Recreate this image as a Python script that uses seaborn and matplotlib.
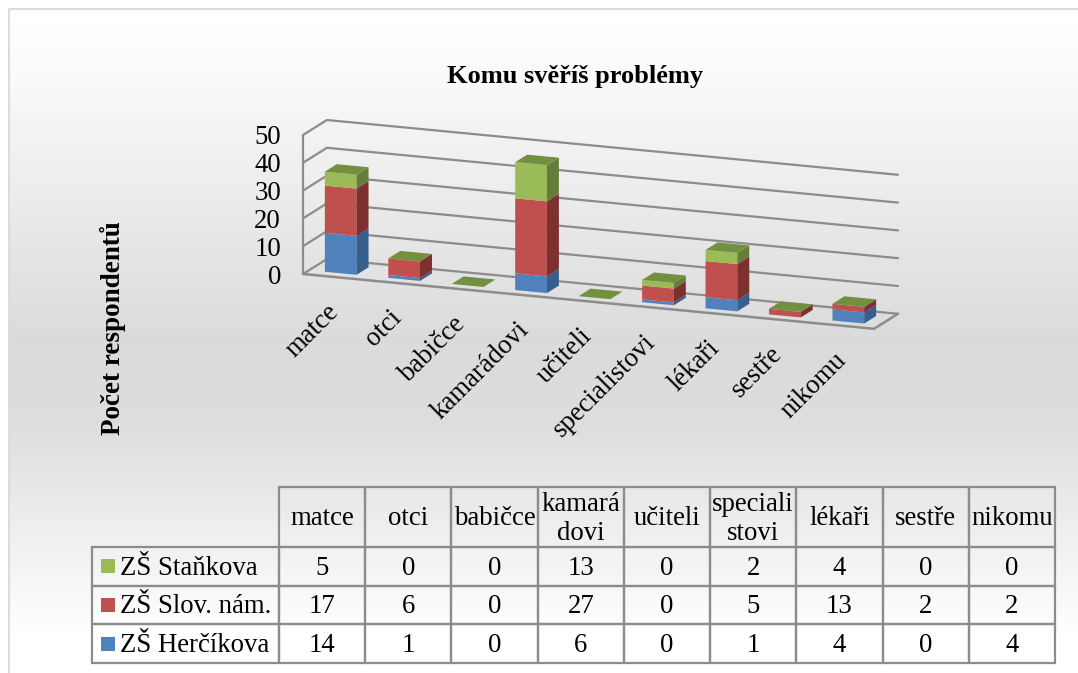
import matplotlib
matplotlib.use("Agg")
import matplotlib.pyplot as plt
import numpy as np
import seaborn as sns
from matplotlib.patches import Polygon, Rectangle
from matplotlib.transforms import Affine2D

kategorie = ["matce", "otci", "babičce", "kamarádovi", "učiteli",
             "specialistovi", "lékaři", "sestře", "nikomu"]
hlavicka = ["matce", "otci", "babičce", "kamará\ndovi", "učiteli",
            "speciali\nstovi", "lékaři", "sestře", "nikomu"]
hercikova = [14, 1, 0, 6, 0, 1, 4, 0, 4]
slov_nam = [17, 6, 0, 27, 0, 5, 13, 2, 2]
stankova = [5, 0, 0, 13, 0, 2, 4, 0, 0]
osa_y = [0, 10, 20, 30, 40, 50]

sns.set_theme(style="white")
plt.rcParams["font.family"] = ["Liberation Serif", "DejaVu Serif"]
plt.rcParams["text.color"] = "black"
W, H = 1078, 673
FS = 19.3
GRID = "#8c8c8c"

fig = plt.figure(figsize=(W / 100, H / 100), dpi=100, facecolor="white")


def px_axes(x0, y0, x1, y1):
    return fig.add_axes([x0 / W, 1 - y1 / H, (x1 - x0) / W, (y1 - y0) / H])


# background gradient of the chart area
bg = px_axes(0, 0, W, H)
bg.set_xlim(0, W)
bg.set_ylim(H, 0)
bg.axis("off")
radky = np.arange(10, H)
odstin = np.interp(radky, [10, 60, 340, 420, 640], [1.0, 0.985, 0.855, 0.865, 1.0])
bg.imshow(odstin[:, None], cmap="gray", vmin=0, vmax=1, aspect="auto",
          extent=[10, W, H, 10], zorder=0)
bg.plot([9, 9, W], [H, 9, 9], color="#dcdcdc", lw=1.5, zorder=1)
bg.set_xlim(0, W)
bg.set_ylim(H, 0)

# sheared pseudo 3D scale: 63.6 px per category, 2.78 px per respondent
SLOPE = 2.19
DEPTH_X = 0.377
DEPTH_Y = 5.4


def project(x, v, d):
    return x + DEPTH_X * d, v - SLOPE * (x + 0.5) + DEPTH_Y * d


def face_transform(d):
    return Affine2D(np.array([[1, 0, DEPTH_X * d],
                              [-SLOPE, 1, -SLOPE * 0.5 + DEPTH_Y * d],
                              [0, 0, 1]]))


ax = px_axes(303, 120, 898, 329)
ax.patch.set_visible(False)

serie = [(hercikova, "#4f81bd", "#365f8d"),
         (slov_nam, "#c0504d", "#7d302e"),
         (stankova, "#9bbb59", "#667c38")]
TOP = "#738f40"

zaklad = np.zeros(len(kategorie))
for hodnoty, barva, bok in serie:
    pred = len(ax.patches)
    sns.barplot(x=kategorie, y=hodnoty, bottom=zaklad, color=barva, saturation=1,
                width=0.5, linewidth=0, ax=ax, zorder=3)
    predni = list(ax.patches)[pred:]
    for r in predni:
        x0, x1 = r.get_x(), r.get_x() + r.get_width()
        y0, y1 = r.get_y(), r.get_y() + r.get_height()
        r.set_transform(face_transform(0.25) + ax.transData)
        if y1 > y0:
            ax.add_patch(Polygon([project(x1, y0, 0.25), project(x1, y1, 0.25),
                                  project(x1, y1, 0.75), project(x1, y0, 0.75)],
                                 closed=True, fc=bok, ec="none", zorder=3))
    zaklad = zaklad + np.array(hodnoty)

# top faces are always the last series, also for zero height stacks
for i, vyska in enumerate(zaklad):
    x0, x1 = i - 0.25, i + 0.25
    ax.add_patch(Polygon([project(x0, vyska, 0.25), project(x1, vyska, 0.25),
                          project(x1, vyska, 0.75), project(x0, vyska, 0.75)],
                         closed=True, fc=TOP, ec="none", zorder=4))

# gridlines on the back and left wall, floor outline
xl, xr = -0.5, 8.5
for v in osa_y:
    a = project(xl, v, 0)
    b = project(xl, v, 1)
    c = project(xr, v, 1)
    ax.plot([a[0], b[0], c[0]], [a[1], b[1], c[1]], color=GRID, lw=1.6, zorder=1,
            clip_on=False)
a = project(xl, 0, 0)
b = project(xr, 0, 0)
c = project(xr, 0, 1)
ax.plot([a[0], b[0], c[0]], [a[1], b[1], c[1]], color=GRID, lw=1.8, zorder=1, clip_on=False)
ax.plot([xl, xl], [0, 50], color=GRID, lw=1.6, zorder=1, clip_on=False)

ax.set_xlim(-0.5, 8.5 + DEPTH_X)
ax.set_ylim((274 - 329) / 2.78, (274 - 120) / 2.78)
ax.set_xticks([])
ax.set_xlabel("")
ax.set_yticks(osa_y)
ax.set_yticklabels([str(v) for v in osa_y])
ax.tick_params(axis="y", length=0, pad=15.8, labelsize=FS, labelcolor="black")
for t in ax.get_yticklabels():
    t.set_verticalalignment("center_baseline")
sns.despine(ax=ax, left=True, bottom=True)

for i, k in enumerate(kategorie):
    ax.annotate(k, xy=project(i, 0, 0), xytext=(0, -31), textcoords="offset pixels",
                rotation=45, rotation_mode="anchor", ha="right", va="center",
                fontsize=FS, color="black", annotation_clip=False)

ax.set_ylabel("Počet respondentů", fontsize=FS + 0.2, fontweight="bold", color="black")
ax.yaxis.set_label_coords((126 - 303) / 595, 0.003)
fig.text(575 / W, 1 - 77 / H, "Komu svěříš problémy", ha="center", va="center",
         fontsize=19.0, fontweight="bold", color="black")

# data table under the chart
tab = px_axes(92, 487, 1055, 663)
tab.set_xlim(92, 1055)
tab.set_ylim(663, 487)
tab.axis("off")
radky_tab = [("ZŠ Staňkova", stankova, "#9bbb59"),
             ("ZŠ Slov. nám.", slov_nam, "#c0504d"),
             ("ZŠ Herčíkova", hercikova, "#4f81bd")]
obsah = [[""] + hlavicka] + [[n] + [str(v) for v in h] for n, h, _ in radky_tab]
tabulka = tab.table(cellText=obsah, cellLoc="center", bbox=[0, 0, 1, 1],
                    colWidths=[187] + [86.2] * 9)
tabulka.auto_set_font_size(False)
tabulka.set_fontsize(FS)
for (r, c), bunka in tabulka.get_celld().items():
    bunka.set_facecolor("none")
    bunka.set_edgecolor(GRID)
    bunka.set_linewidth(1.6)
    bunka.set_height(60 if r == 0 else 38.7)
    text = bunka.get_text()
    text.set_linespacing(1.2)
    # cell text sits in display coordinates, nudge it down a little
    text.set_transform(Affine2D().translate(0, -2))
    if c == 0:
        bunka.PAD = 0.15
        text.set_ha("left")
    if r == 0 and c == 0:
        bunka.visible_edges = ""
for i, (_, _, barva) in enumerate(radky_tab):
    stred = 547 + 38.7 * (i + 0.5)
    tab.add_patch(Rectangle((101, stred - 7), 14, 14, fc=barva, ec="none", zorder=5))

fig.savefig("out.png", dpi=100)
